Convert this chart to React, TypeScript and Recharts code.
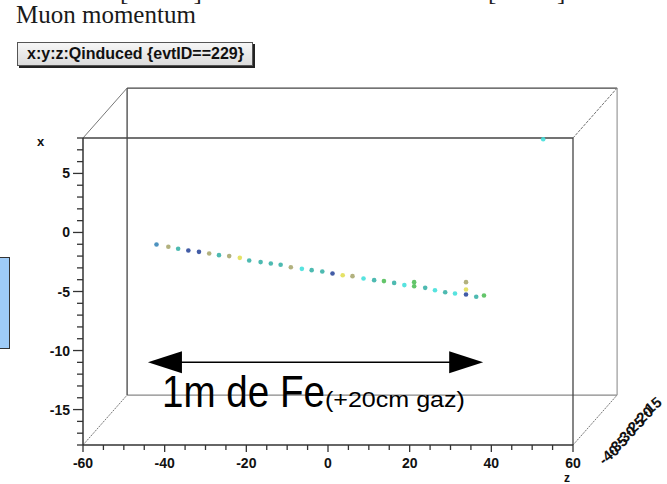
import React from "react";
import { ScatterChart, Scatter, XAxis, YAxis, ReferenceLine, ReferenceDot } from "recharts";

// hits of event 229: z along the beam, x transverse, Qinduced as a palette level
const hitZ = [-42.0, -39.1, -36.7, -34.2, -31.6, -29.1, -26.7, -24.2, -21.6, -19.3, -16.5, -14.0, -11.6, -9.1, -6.4, -4.0, -1.4, 1.1, 3.6, 6.0, 8.7, 11.3, 13.7, 16.2, 18.7, 21.1, 21.1, 23.8, 26.2, 28.7, 31.1, 33.8, 33.8, 33.8, 36.3, 38.2, 52.7];
const hitX = [-1.02, -1.21, -1.38, -1.53, -1.64, -1.78, -1.92, -2.0, -2.15, -2.37, -2.51, -2.63, -2.74, -2.94, -3.08, -3.19, -3.31, -3.47, -3.62, -3.7, -3.9, -4.04, -4.12, -4.27, -4.46, -4.21, -4.55, -4.69, -4.89, -5.06, -5.17, -4.21, -4.83, -5.25, -5.45, -5.34, 7.9];
const hitQ = [1, 5, 2, 0, 0, 5, 2, 5, 6, 2, 2, 2, 2, 5, 3, 2, 2, 0, 6, 5, 3, 2, 4, 2, 3, 4, 4, 2, 3, 2, 3, 5, 6, 0, 2, 4, 3];

const zTicks = [-60, -55, -50, -45, -40, -35, -30, -25, -20, -15, -10, -5, 0, 5, 10, 15, 20, 25, 30, 35, 40, 45, 50, 55, 60];
const xTicks = [-18, -17, -16, -15, -14, -13, -12, -11, -10, -9, -8, -7, -6, -5, -4, -3, -2, -1, 0, 1, 2, 3, 4, 5, 6, 7, 8];
const yDepthTicks = [-40, -35, -30, -25, -20, -15];

const palette = ["#2d4a9c", "#3a86b8", "#3bb3a8", "#45e0dc", "#52bf5a", "#aaa870", "#e2df55"];

// perspective shift of the back face, in data units (z, x)
const DZ = 10.8;
const DX = 4.23;

const data = hitZ.map((z, i) => ({ z, x: hitX[i], color: palette[hitQ[i]] }));

const font = "'Liberation Sans', Arial, sans-serif";

const ZTick = (props: any) => {
  const { x, y, payload } = props;
  const v = payload.value;
  const major = v % 20 === 0;
  return (
    <g>
      <line x1={x} y1={y} x2={x} y2={y + (major ? 7 : 5)} stroke="#333" strokeWidth={1.3} />
      {major && (
        <text x={x} y={y + 23} textAnchor="middle" fontFamily={font} fontWeight="bold" fontSize={14} fill="#111">
          {v}
        </text>
      )}
    </g>
  );
};

const XTick = (props: any) => {
  const { x, y, payload } = props;
  const v = payload.value;
  const major = v % 5 === 0;
  return (
    <g>
      <line x1={x - (major ? 10 : 6)} y1={y} x2={x} y2={y} stroke="#333" strokeWidth={1.3} />
      {major && (
        <text x={x - 13} y={y + 5} textAnchor="end" fontFamily={font} fontWeight="bold" fontSize={14} fill="#111">
          {v}
        </text>
      )}
    </g>
  );
};

const Arrow = (props: any) => {
  const { x1, y1, x2, y2 } = props;
  return (
    <g>
      <line x1={x1 + 20} y1={y1} x2={x2 - 20} y2={y2} stroke="#000" strokeWidth={1.5} />
      <polygon points={`${x1},${y1} ${x1 + 34},${y1 - 11} ${x1 + 34},${y1 + 11}`} fill="#000" />
      <polygon points={`${x2},${y2} ${x2 - 34},${y2 - 11} ${x2 - 34},${y2 + 11}`} fill="#000" />
      <text x={x1 + 14} y={y1 + 45} fontFamily={font} fontSize={44} fill="#000" textLength={163} lengthAdjust="spacingAndGlyphs">
        1m de Fe
      </text>
      <text x={x1 + 177} y={y1 + 45} fontFamily={font} fontSize={22} fill="#000" textLength={140} lengthAdjust="spacingAndGlyphs">
        (+20cm gaz)
      </text>
    </g>
  );
};

const DepthLabel = (label: number) => (props: any) => (
  <text
    x={props.cx + 36}
    y={props.cy + 15}
    textAnchor="middle"
    transform={`rotate(-40 ${props.cx + 36} ${props.cy + 10})`}
    fontFamily={font}
    fontWeight="bold"
    fontSize={15}
    fill="#111"
  >
    {label}
  </text>
);

const boxEdge = { stroke: "#444", strokeWidth: 1.3 };
const diagEdge = { stroke: "#777", strokeWidth: 1 };
const serif = "'Liberation Serif', serif";

export default function App() {
  return (
    <div style={{ position: "absolute", left: 0, top: 0, width: 667, height: 484, background: "#fff", overflow: "hidden" }}>
      <div style={{ position: "absolute", left: 120, top: -22, fontFamily: serif, fontSize: 25, color: "#222" }}>[GeV/c]</div>
      <div style={{ position: "absolute", left: 488, top: -22, fontFamily: serif, fontSize: 25, color: "#222" }}>[TeV/c]</div>
      <div style={{ position: "absolute", left: 16, top: 1, fontFamily: serif, fontSize: 25, color: "#1a1a1a" }}>Muon momentum</div>
      <div
        style={{
          position: "absolute",
          left: 17,
          top: 42,
          width: 236,
          height: 24,
          boxSizing: "border-box",
          border: "1px solid #555",
          boxShadow: "2px 2px 0 #222",
          background: "linear-gradient(#f6f6f6, #dcdcdc)",
          fontFamily: font,
          fontWeight: "bold",
          fontSize: 16,
          lineHeight: "22px",
          paddingLeft: 9,
          color: "#111",
          whiteSpace: "nowrap",
        }}
      >
        x:y:z:Qinduced {"{evtID==229}"}
      </div>
      <div style={{ position: "absolute", left: 0, top: 257, width: 10, height: 92, boxSizing: "border-box", background: "#9ecbf7", border: "1px solid #333", borderLeft: "none" }} />
      <div style={{ position: "absolute", left: 37, top: 134, fontFamily: font, fontWeight: "bold", fontSize: 13, color: "#111" }}>x</div>
      <div style={{ position: "absolute", left: 564, top: 471, fontFamily: font, fontWeight: "bold", fontSize: 12, color: "#111" }}>z</div>

      <div style={{ position: "absolute", left: 0, top: 0 }}>
        <ScatterChart width={667} height={484} margin={{ top: 138, right: 94, bottom: 0, left: 0 }}>
          <XAxis
            type="number"
            dataKey="z"
            domain={[-60, 60]}
            ticks={zTicks}
            interval={0}
            height={39}
            tickSize={0}
            tickMargin={0}
            tick={<ZTick />}
            axisLine={{ stroke: "#333", strokeWidth: 1.5 }}
          />
          <YAxis
            type="number"
            dataKey="x"
            domain={[-18, 8]}
            ticks={xTicks}
            interval={0}
            width={83}
            tickSize={0}
            tickMargin={0}
            tick={<XTick />}
            axisLine={{ stroke: "#333", strokeWidth: 1.5 }}
          />
          {/* back face */}
          <ReferenceLine ifOverflow="visible" segment={[{ x: -60 + DZ, y: 8 + DX }, { x: 60 + DZ, y: 8 + DX }]} {...boxEdge} />
          <ReferenceLine ifOverflow="visible" segment={[{ x: -60 + DZ, y: -18 + DX }, { x: 60 + DZ, y: -18 + DX }]} stroke="#888" strokeWidth={1.2} />
          <ReferenceLine ifOverflow="visible" segment={[{ x: -60 + DZ, y: -18 + DX }, { x: -60 + DZ, y: 8 + DX }]} {...boxEdge} />
          <ReferenceLine ifOverflow="visible" segment={[{ x: 60 + DZ, y: -18 + DX }, { x: 60 + DZ, y: 8 + DX }]} stroke="#999" strokeWidth={1.2} />
          {/* depth edges */}
          <ReferenceLine ifOverflow="visible" segment={[{ x: -60, y: 8 }, { x: -60 + DZ, y: 8 + DX }]} {...diagEdge} />
          <ReferenceLine ifOverflow="visible" segment={[{ x: 60, y: 8 }, { x: 60 + DZ, y: 8 + DX }]} {...diagEdge} strokeDasharray="3 1" />
          <ReferenceLine ifOverflow="visible" segment={[{ x: -60, y: -18 }, { x: -60 + DZ, y: -18 + DX }]} {...diagEdge} strokeDasharray="2 1" />
          <ReferenceLine ifOverflow="visible" segment={[{ x: 60, y: -18 }, { x: 60 + DZ, y: -18 + DX }]} {...diagEdge} strokeDasharray="2 1" />
          {/* front face */}
          <ReferenceLine y={8} {...boxEdge} />
          <ReferenceLine x={60} {...boxEdge} />
          <ReferenceLine ifOverflow="visible" segment={[{ x: -44.1, y: -11 }, { x: 38, y: -11 }]} shape={<Arrow />} />
          {yDepthTicks.map((d) => {
            const t = (d + 40) / 26;
            return <ReferenceDot key={d} ifOverflow="visible" x={60 + t * DZ} y={-18 + t * DX} r={0} shape={DepthLabel(d)} />;
          })}
          <Scatter
            data={data}
            isAnimationActive={false}
            shape={(p: any) => <circle cx={p.cx} cy={p.cy} r={2.3} fill={p.payload.color} fillOpacity={0.9} />}
          />
        </ScatterChart>
      </div>
    </div>
  );
}
